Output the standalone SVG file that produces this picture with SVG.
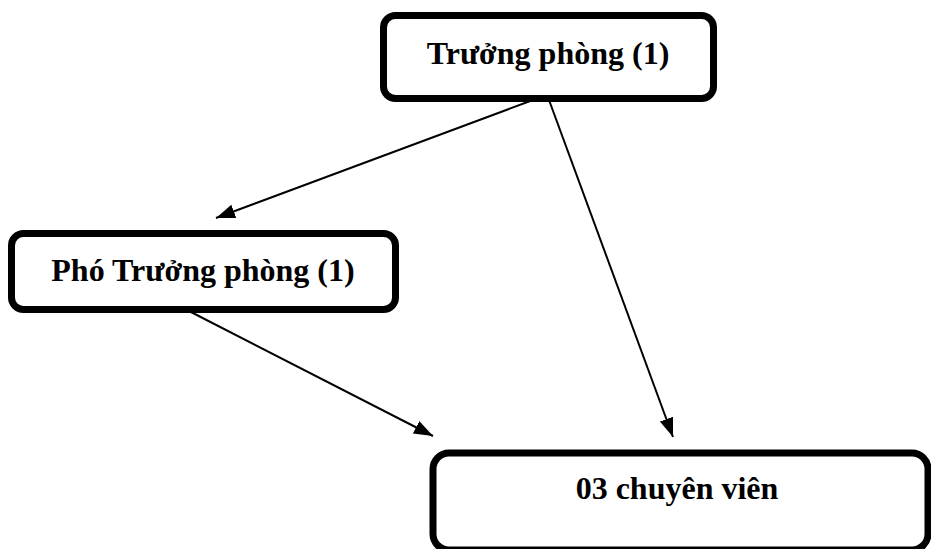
<svg xmlns="http://www.w3.org/2000/svg" width="931" height="549" viewBox="0 0 931 549">
<defs>
<style>
.box{fill:#fff;stroke:#000;stroke-width:7}
.lbl{font-family:"Liberation Serif","Times New Roman",serif;font-weight:bold;font-size:32px;fill:#000;text-anchor:middle}
.conn{stroke:#000;stroke-width:2;fill:none;marker-end:url(#ah)}
</style>
<marker id="ah" markerUnits="userSpaceOnUse" markerWidth="22" markerHeight="16" refX="19" refY="7" orient="auto">
<path d="M0,0 L19,7 L0,14 z" fill="#000"/>
</marker>
</defs>
<g id="connectors">
<line class="conn" x1="533" y1="100" x2="216" y2="218"/>
<line class="conn" x1="549" y1="100" x2="673" y2="437"/>
<line class="conn" x1="189" y1="311" x2="433" y2="436"/>
</g>
<g id="truong-phong">
<rect class="box" x="383.5" y="15.5" width="330" height="83" rx="12"/>
<text class="lbl" x="548" y="64">Trưởng phòng (1)</text>
</g>
<g id="pho-truong-phong">
<rect class="box" x="11.5" y="233.5" width="384" height="76" rx="12"/>
<text class="lbl" x="203" y="281">Phó Trưởng phòng (1)</text>
</g>
<g id="chuyen-vien">
<rect class="box" x="433" y="453" width="495" height="97" rx="16"/>
<text class="lbl" x="677" y="499">03 chuyên viên</text>
</g>
</svg>
